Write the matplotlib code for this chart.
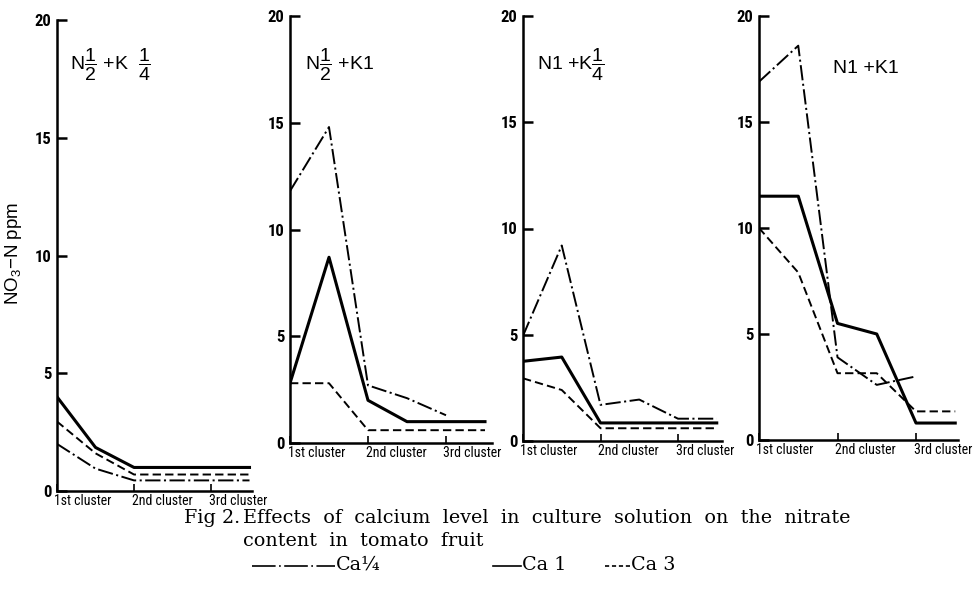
import matplotlib
matplotlib.use("Agg")
import matplotlib.pyplot as plt
from matplotlib import font_manager
from matplotlib.lines import Line2D
from matplotlib.transforms import ScaledTranslation

# ---- data (NO3-N ppm) ----
clusters = ["1st cluster", "2nd cluster", "3rd cluster"]
x_pts = [0, 0.5, 1, 1.5, 2, 2.5]
panel_titles = [r"N$\dfrac{1}{2}$ +K  $\dfrac{1}{4}$", r"N$\dfrac{1}{2}$ +K1",
                r"N1 +K$\dfrac{1}{4}$", "N1 +K1"]

ca_quarter = [
    [2.0, 0.95, 0.45, 0.45, 0.45, 0.45],
    [11.8, 14.8, 2.7, 2.1, 1.3],
    [4.95, 9.2, 1.7, 1.95, 1.05, 1.05],
    [16.9, 18.6, 3.9, 2.6, 3.0],
]
ca_1 = [
    [4.0, 1.85, 1.0, 1.0, 1.0, 1.0],
    [2.8, 8.7, 2.0, 1.0, 1.0, 1.0],
    [3.75, 3.95, 0.85, 0.85, 0.85, 0.85],
    [11.5, 11.5, 5.5, 5.0, 0.8, 0.8],
]
ca_3 = [
    [2.95, 1.6, 0.7, 0.7, 0.7, 0.7],
    [2.8, 2.8, 0.6, 0.6, 0.6, 0.6],
    [2.95, 2.4, 0.6, 0.6, 0.6, 0.6],
    [10.0, 7.9, 3.15, 3.15, 1.35, 1.35],
]
series_labels = ["Ca\u00bc", "Ca 1", "Ca 3"]


def pick(*names):
    have = {f.name for f in font_manager.fontManager.ttflist}
    for n in names:
        if n in have:
            return n
    return "DejaVu Sans"


NARROW = pick("Liberation Sans Narrow", "Roboto Condensed", "DejaVu Sans")
SANS = pick("Liberation Sans", "DejaVu Sans")
SERIF = pick("DejaVu Serif", "Liberation Serif")

plt.rcParams["lines.scale_dashes"] = False
plt.rcParams["mathtext.fontset"] = "custom"
plt.rcParams["mathtext.rm"] = SANS
plt.rcParams["mathtext.it"] = SANS

W, H = 975, 605
fig = plt.figure(figsize=(W / 100, H / 100), dpi=100)

# axes boxes in reference pixels: left, right, y of 0, y of 20, px per cluster
boxes = [(57, 252, 491, 20, 77), (290, 492, 443, 16, 78),
         (523, 722, 441, 16, 77.5), (759, 958, 440, 16, 78.5)]
title_pos = [(0.067, 0.905), (0.074, 0.885), (0.07, 0.885), (0.37, 0.877)]

styles = [
    dict(color="black", lw=1.4, ls=(0, (11, 2.5, 1.5, 2.5))),
    dict(color="black", lw=2.2, ls="-"),
    dict(color="black", lw=1.4, ls=(0, (6, 3))),
]

shift = ScaledTranslation(-0.025, 0, fig.dpi_scale_trans)

for i, (l, r, y0, y20, step) in enumerate(boxes):
    ax = fig.add_axes([l / W, 1 - y0 / H, (r - l) / W, (y0 - y20) / H])
    for vals, st in zip((ca_quarter[i], ca_1[i], ca_3[i]), styles):
        ax.plot(x_pts[:len(vals)], vals, **st)
    ax.set_xlim(0, (r - l) / step)
    ax.set_ylim(0, 20)
    for s in ("top", "right"):
        ax.spines[s].set_visible(False)
    for s in ("left", "bottom"):
        ax.spines[s].set_linewidth(1.8)
    ax.tick_params(axis="y", direction="in", length=7, width=1.8, pad=4)
    ax.tick_params(axis="x", direction="in", length=5, width=1.2, pad=2)
    ax.set_yticks([0, 5, 10, 15, 20])
    ax.set_yticklabels(["0", "5", "10", "15", "20"], fontfamily=NARROW,
                       fontweight="bold", fontsize=12)
    ax.set_xticks([0, 1, 2])
    ax.set_xticklabels(clusters, fontfamily=NARROW, fontsize=10, ha="left")
    for lab in ax.get_xticklabels():
        lab.set_transform(lab.get_transform() + shift)
    ax.text(*title_pos[i], panel_titles[i], transform=ax.transAxes,
            fontfamily=SANS, fontsize=14, ha="left", va="center")

fig.text(14 / W, 1 - 253 / H, "NO$_3$\u2212N ppm", rotation=90,
         fontfamily=SANS, fontsize=13.5, ha="center", va="center")

# caption
cap = dict(fontfamily=SERIF, fontsize=13.8, ha="left", va="center")
fig.text(184 / W, 1 - 518 / H, "Fig 2.", **cap)
fig.text(243 / W, 1 - 518 / H,
         "Effects  of  calcium  level  in  culture  solution  on  the  nitrate",
         **cap)
fig.text(243 / W, 1 - 541 / H, "content  in  tomato  fruit", **cap)

# hand-drawn legend line under the caption
legend_keys = [
    ((252, 335), dict(color="black", lw=1.2, ls=(0, (17, 2.5, 1.2, 2.5)))),
    ((493, 521), dict(color="black", lw=1.2, ls="-")),
    ((605, 630), dict(color="black", lw=1.2, ls=(0, (3, 2)))),
]
for ((xa, xb), st), lab in zip(legend_keys, series_labels):
    fig.add_artist(Line2D([xa / W, xb / W], [1 - 566 / H, 1 - 566 / H],
                          transform=fig.transFigure, **st))
    fig.text((xb + 1) / W, 1 - 565 / H, lab, **cap)

fig.savefig("out.png", dpi=100)
